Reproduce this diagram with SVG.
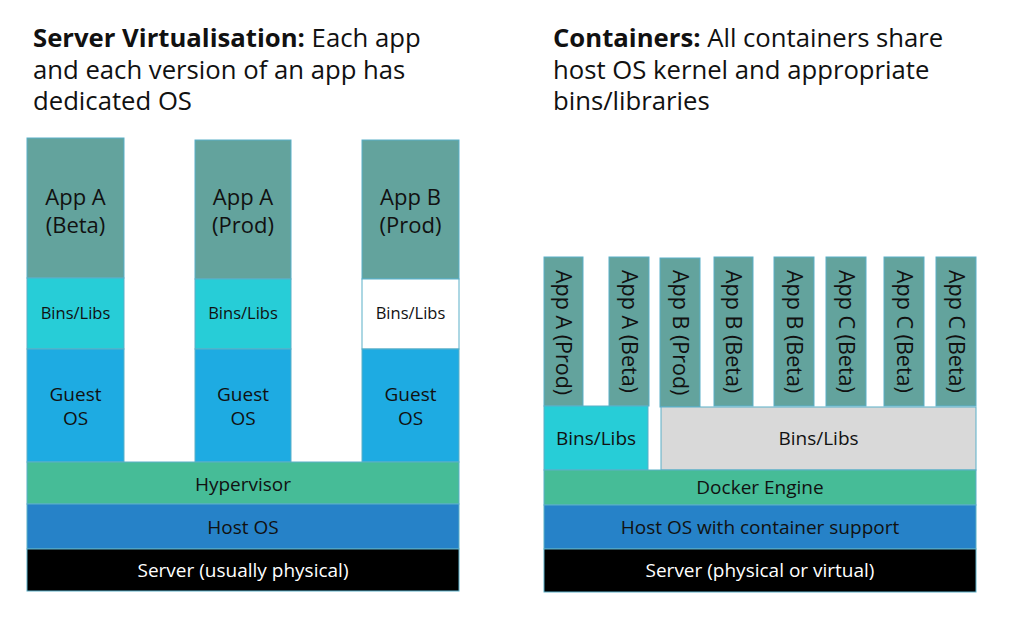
<svg xmlns="http://www.w3.org/2000/svg" width="1024" height="628" viewBox="0 0 1024 628">
<style>
text{font-family:"Open Sans","Noto Sans","Liberation Sans",sans-serif;fill:#111;}
.hd{font-size:25.7px;}
.b{font-weight:bold;}
.box{stroke:#5AAFC8;stroke-width:1;}
.app{fill:#63A39D;}
.bins{fill:#27CDD7;}
.binsw{fill:#FFFFFF;}
.binsg{fill:#D9D9D9;}
.guest{fill:#1EABE2;}
.hyp{fill:#46BC97;}
.host{fill:#2682C8;}
.srv{fill:#000000;}
.t22{font-size:22px;text-anchor:middle;}
.t20{font-size:19px;text-anchor:middle;}
.t17{font-size:16.5px;text-anchor:middle;}
.wt{fill:#FFFFFF;}
.vt{font-size:21.5px;}
</style>
<rect width="1024" height="628" fill="#FFFFFF"/>
<g id="title-left">
<text class="hd" x="33" y="47"><tspan class="b">Server Virtualisation:</tspan> Each app</text>
<text class="hd" x="33" y="79">and each version of an app has</text>
<text class="hd" x="33" y="110">dedicated OS</text>
</g>
<g id="title-right">
<text class="hd" x="553" y="47"><tspan class="b">Containers:</tspan> All containers share</text>
<text class="hd" x="553" y="79">host OS kernel and appropriate</text>
<text class="hd" x="553" y="110">bins/libraries</text>
</g>
<g id="vm1">
<rect class="box app" x="27" y="138" width="97" height="140"/>
<text class="t22" x="75.5" y="205">App A</text>
<text class="t22" x="75.5" y="233">(Beta)</text>
<rect class="box bins" x="27" y="278" width="97" height="71"/>
<text class="t17" x="75.5" y="319">Bins/Libs</text>
<rect class="box guest" x="27" y="349" width="97" height="113"/>
<text class="t20" x="75.5" y="401">Guest</text>
<text class="t20" x="75.5" y="425">OS</text>
</g>
<g id="vm2">
<rect class="box app" x="195" y="140" width="96" height="139"/>
<text class="t22" x="243" y="205">App A</text>
<text class="t22" x="243" y="233">(Prod)</text>
<rect class="box bins" x="195" y="279" width="96" height="70"/>
<text class="t17" x="243" y="319">Bins/Libs</text>
<rect class="box guest" x="195" y="349" width="96" height="113"/>
<text class="t20" x="243" y="401">Guest</text>
<text class="t20" x="243" y="425">OS</text>
</g>
<g id="vm3">
<rect class="box app" x="362" y="140" width="97" height="139"/>
<text class="t22" x="410.5" y="205">App B</text>
<text class="t22" x="410.5" y="233">(Prod)</text>
<rect class="box binsw" x="362" y="279" width="97" height="70"/>
<text class="t17" x="410.5" y="319">Bins/Libs</text>
<rect class="box guest" x="362" y="349" width="97" height="113"/>
<text class="t20" x="410.5" y="401">Guest</text>
<text class="t20" x="410.5" y="425">OS</text>
</g>
<g id="hypervisor">
<rect class="box hyp" x="27" y="462" width="432" height="42"/>
<text class="t20" x="243" y="491">Hypervisor</text>
</g>
<g id="host-os-left">
<rect class="box host" x="27" y="504" width="432" height="45"/>
<text class="t20" x="243" y="534">Host OS</text>
</g>
<g id="server-left">
<rect class="box srv" x="27" y="549" width="432" height="42"/>
<text class="t20 wt" x="243" y="577">Server (usually physical)</text>
</g>
<g id="c1"><rect class="box app" x="544" y="257" width="39" height="149"/><text class="vt" transform="translate(563.5,270) rotate(90)" y="7.5">App A (Prod)</text></g>
<g id="c2"><rect class="box app" x="609" y="257" width="40" height="149"/><text class="vt" transform="translate(629,270) rotate(90)" y="7.5">App A (Beta)</text></g>
<g id="c3"><rect class="box app" x="660" y="258" width="40" height="149"/><text class="vt" transform="translate(680,270) rotate(90)" y="7.5">App B (Prod)</text></g>
<g id="c4"><rect class="box app" x="714" y="257" width="39" height="149"/><text class="vt" transform="translate(733.5,270) rotate(90)" y="7.5">App B (Beta)</text></g>
<g id="c5"><rect class="box app" x="774" y="257" width="40" height="149"/><text class="vt" transform="translate(794,270) rotate(90)" y="7.5">App B (Beta)</text></g>
<g id="c6"><rect class="box app" x="826" y="257" width="40" height="149"/><text class="vt" transform="translate(846,270) rotate(90)" y="7.5">App C (Beta)</text></g>
<g id="c7"><rect class="box app" x="884" y="257" width="40" height="149"/><text class="vt" transform="translate(904,270) rotate(90)" y="7.5">App C (Beta)</text></g>
<g id="c8"><rect class="box app" x="936" y="257" width="40" height="149"/><text class="vt" transform="translate(956,270) rotate(90)" y="7.5">App C (Beta)</text></g>
<g id="bins-a">
<rect class="box bins" x="544" y="406" width="104" height="64"/>
<text class="t17" x="596" y="445" style="font-size:19px">Bins/Libs</text>
</g>
<g id="bins-shared">
<rect class="box binsg" x="661" y="407" width="315" height="63"/>
<text class="t17" x="818.5" y="445" style="font-size:19px">Bins/Libs</text>
</g>
<g id="docker-engine">
<rect class="box hyp" x="544" y="470" width="432" height="35"/>
<text class="t20" x="760" y="494">Docker Engine</text>
</g>
<g id="host-os-right">
<rect class="box host" x="544" y="505" width="432" height="44"/>
<text class="t20" x="760" y="534">Host OS with container support</text>
</g>
<g id="server-right">
<rect class="box srv" x="544" y="549" width="432" height="43"/>
<text class="t20 wt" x="760" y="577">Server (physical or virtual)</text>
</g>
<g id="connectors"/>
</svg>
